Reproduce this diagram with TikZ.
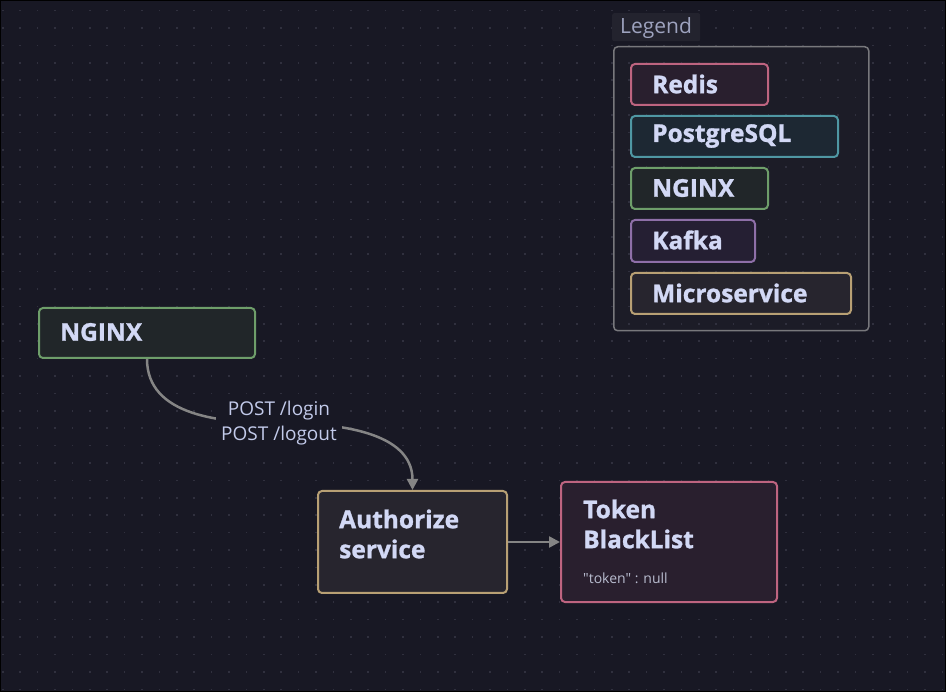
\documentclass[tikz,border=0pt]{standalone}
\usepackage{fontspec}
\setmainfont{Open Sans}[Ligatures=TeXOff,BoldFeatures={FakeBold=1.2}]
\usetikzlibrary{arrows.meta}
\definecolor{bg}{HTML}{181824}
\definecolor{dotc}{HTML}{30303E}
\definecolor{txt}{HTML}{D2D8F5}
\definecolor{lbltxt}{HTML}{C2CAEA}
\definecolor{legtxt}{HTML}{9EA3BF}
\definecolor{legbg}{HTML}{23232E}
\definecolor{legframe}{HTML}{78787C}
\definecolor{legfill}{HTML}{1C1C27}
\definecolor{edgec}{HTML}{858585}
\definecolor{redisB}{HTML}{BE6480}
\definecolor{redisF}{HTML}{291F2E}
\definecolor{pgB}{HTML}{4F97A3}
\definecolor{pgF}{HTML}{1D2833}
\definecolor{ngB}{HTML}{6E9E6A}
\definecolor{ngF}{HTML}{212629}
\definecolor{kafB}{HTML}{8E6FA8}
\definecolor{kafF}{HTML}{251F33}
\definecolor{msB}{HTML}{B8A074}
\definecolor{msF}{HTML}{27252E}
\definecolor{small}{HTML}{B8BCCF}
\tikzset{
  box/.style={draw, rounded corners=4pt, line width=2pt, anchor=north west, inner sep=0pt},
  title/.style={font=\bfseries\fontsize{24.5}{30}\selectfont, text=txt, inner sep=0pt, anchor=west},
  legtitle/.style={font=\bfseries\fontsize{24.5}{26}\selectfont, text=txt, inner sep=0pt, anchor=west},
  edge/.style={draw=edgec, line width=2.5pt, -{Triangle[length=11pt,width=11pt]}},
  elabel/.style={font=\fontsize{19}{25}\selectfont, text=lbltxt, align=center, fill=bg, inner xsep=5pt, inner ysep=2pt}
}
\begin{document}
\begin{tikzpicture}[x=1pt,y=-1pt]
\fill[bg] (0,0) rectangle (946,692);
\useasboundingbox (0,0) rectangle (946,692);
% legend frame fill
\fill[legfill, rounded corners=4pt] (613,46) rectangle (868,330);
% dot grid
\foreach \i in {0,...,54} {
  \foreach \j in {0,...,39} {
    \fill[dotc] ({2.7+17.4*\i-0.8},{10.7+17.4*\j-0.8}) rectangle ++(1.6,1.6);
  }
}
\draw[black, line width=2pt] (0,0) rectangle (946,692);
% legend
\node[fill=legbg, rounded corners=2pt, anchor=north west, minimum width=88pt, minimum height=28pt, inner sep=0pt] (legbox) at (612,13) {};
\node[font=\fontsize{21}{24}\selectfont, text=legtxt, inner sep=0pt, anchor=west] (legT) at (620,28) {Legend};
\node[draw=legframe, line width=1.5pt, rounded corners=4pt, anchor=north west, minimum width=255pt, minimum height=284pt, inner sep=0pt] (legframe) at (613,46) {};
\node[box, draw=redisB, fill=redisF, minimum width=137pt, minimum height=41pt] (lredis) at (630,63) {};
\node[legtitle] (lredisT) at (652,84) {Redis};
\node[box, draw=pgB, fill=pgF, minimum width=207pt, minimum height=41pt] (lpg) at (630,115) {};
\node[legtitle] (lpgT) at (652,136) {PostgreSQL};
\node[box, draw=ngB, fill=ngF, minimum width=137pt, minimum height=41pt] (lng) at (630,167) {};
\node[legtitle] (lngT) at (652,188) {NGINX};
\node[box, draw=kafB, fill=kafF, minimum width=124pt, minimum height=42pt] (lkaf) at (630,219) {};
\node[legtitle] (lkafT) at (652,240) {Kafka};
\node[box, draw=msB, fill=msF, minimum width=220pt, minimum height=41pt] (lms) at (630,272) {};
\node[legtitle] (lmsT) at (652,293) {Microservice};
% main nodes
\node[box, draw=ngB, fill=ngF, minimum width=216pt, minimum height=50pt] (nginx) at (38,307) {};
\node[title] (nginxT) at (60,332) {NGINX};
\node[box, draw=msB, fill=msF, minimum width=189pt, minimum height=102pt] (auth) at (317,490) {};
\node[title] (authT1) at (339,519) {Authorize};
\node[title] (authT2) at (339,549) {service};
\node[box, draw=redisB, fill=redisF, minimum width=216pt, minimum height=120pt] (token) at (560,481) {};
\node[title] (tokT1) at (583,509) {Token};
\node[title] (tokT2) at (583,539) {BlackList};
\node[font=\fontsize{14}{16}\selectfont, text=small, inner sep=0pt, anchor=west] (tokS) at (583,578) {"token" : null};
% edges
\coordinate (mid) at (279,423);
\draw[edge] (nginx.south) to[out=-90,in=180] (mid) to[out=0,in=90] (auth.north);
\node[elabel] (lab) at (mid) {POST /login\\POST /logout};
\draw[edge] (auth.east) -- (token.west);
\end{tikzpicture}
\end{document}
